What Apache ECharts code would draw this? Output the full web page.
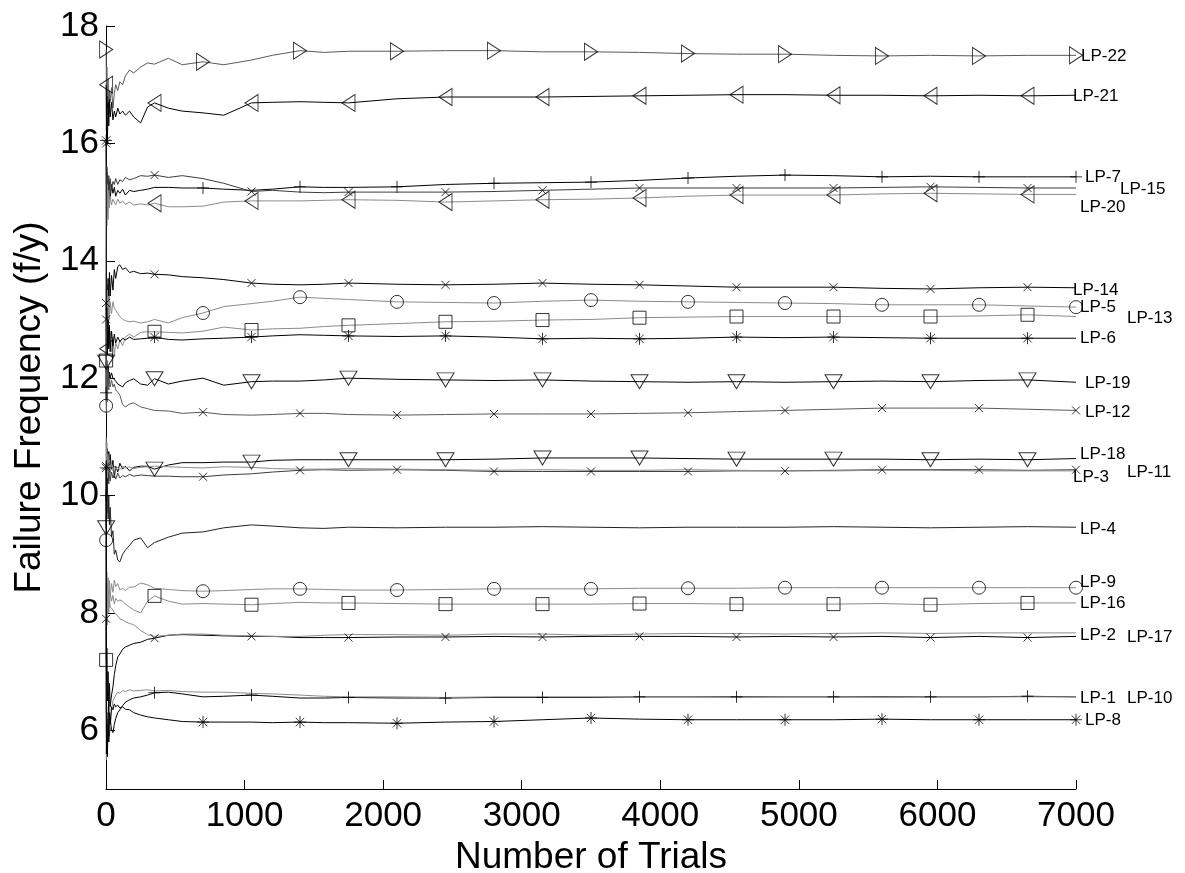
<!DOCTYPE html>
<html>
<head>
<meta charset="utf-8">
<title>Failure Frequency vs Number of Trials</title>
<script src="https://cdn.jsdelivr.net/npm/echarts@6/dist/echarts.min.js"></script>
<style>
  html, body { margin: 0; padding: 0; background: #fff; }
  #chart { width: 1185px; height: 873px; }
</style>
</head>
<body>
<div id="chart"></div>
<script>
// Trial counts at which each running failure-frequency estimate is sampled
const TRIALS = [1, 3, 6, 10, 15, 20, 25, 30, 40, 50, 60, 70, 85, 100, 120, 140, 170, 200, 250, 300,
  350, 450, 550, 700, 850, 1050, 1200, 1400, 1575, 1750, 2100, 2450, 2800, 3150, 3500, 3850,
  4200, 4550, 4900, 5250, 5600, 5950, 6300, 6650, 7000];

// Running failure frequency (f/y) of each load point
const LP22 = [17.6, 16.9, 17.3, 16.6, 17.1, 16.5, 16.9, 16.7, 16.95, 16.6, 16.85, 17.0, 16.9, 17.05, 17.0, 17.15, 17.25, 17.2, 17.3, 17.37, 17.35, 17.45, 17.34, 17.39, 17.34, 17.42, 17.5, 17.58, 17.55, 17.57, 17.57, 17.58, 17.58, 17.56, 17.56, 17.55, 17.53, 17.52, 17.52, 17.5, 17.49, 17.5, 17.49, 17.5, 17.5];
const LP21 = [17.0, 16.2, 16.8, 16.0, 16.7, 16.3, 16.75, 16.45, 16.7, 16.4, 16.55, 16.45, 16.6, 16.5, 16.55, 16.48, 16.55, 16.45, 16.35, 16.62, 16.69, 16.6, 16.55, 16.52, 16.48, 16.69, 16.7, 16.71, 16.7, 16.69, 16.76, 16.79, 16.79, 16.79, 16.8, 16.81, 16.82, 16.83, 16.83, 16.82, 16.82, 16.81, 16.82, 16.81, 16.82];
const LP7 = [11.75, 14.2, 15.6, 15.0, 15.4, 15.1, 15.35, 15.05, 15.3, 15.15, 15.25, 15.1, 15.2, 15.15, 15.22, 15.12, 15.2, 15.18, 15.2, 15.22, 15.25, 15.25, 15.24, 15.24, 15.22, 15.2, 15.22, 15.26, 15.25, 15.25, 15.26, 15.3, 15.32, 15.33, 15.34, 15.37, 15.41, 15.44, 15.46, 15.45, 15.43, 15.44, 15.43, 15.43, 15.43];
const LP15 = [16.0, 15.3, 14.8, 15.5, 15.0, 15.45, 15.1, 15.4, 15.2, 15.35, 15.3, 15.4, 15.3, 15.38, 15.35, 15.42, 15.38, 15.4, 15.45, 15.44, 15.46, 15.42, 15.45, 15.4, 15.32, 15.18, 15.2, 15.17, 15.16, 15.17, 15.17, 15.17, 15.18, 15.2, 15.22, 15.24, 15.24, 15.24, 15.24, 15.24, 15.25, 15.26, 15.25, 15.24, 15.24];
const LP20 = [12.5, 15.6, 14.6, 15.3, 14.7, 15.2, 14.9, 15.1, 14.95, 15.05, 15.0, 14.95, 15.05, 14.98, 15.02, 14.96, 15.0, 14.95, 14.97, 14.95, 14.98, 14.92, 14.92, 14.93, 15.0, 15.02, 15.02, 15.02, 15.03, 15.04, 15.03, 15.0, 15.02, 15.04, 15.05, 15.07, 15.1, 15.12, 15.12, 15.12, 15.14, 15.15, 15.14, 15.13, 15.13];
const LP14 = [13.28, 12.8, 13.6, 13.1, 13.7, 13.3, 13.8, 13.4, 13.75, 13.5, 13.85, 13.7, 13.9, 13.93, 13.85, 13.88, 13.8, 13.82, 13.78, 13.79, 13.77, 13.76, 13.73, 13.71, 13.68, 13.62, 13.6, 13.59, 13.6, 13.62, 13.6, 13.59, 13.6, 13.62, 13.6, 13.59, 13.57, 13.55, 13.55, 13.55, 13.53, 13.52, 13.54, 13.55, 13.54];
const LP5 = [11.53, 13.6, 12.6, 13.5, 12.9, 13.4, 13.0, 13.3, 13.1, 13.3, 13.2, 13.16, 13.1, 13.05, 13.0, 12.98, 12.96, 12.97, 12.94, 12.96, 13.0, 12.94, 13.03, 13.11, 13.22, 13.27, 13.31, 13.38, 13.36, 13.34, 13.3, 13.29, 13.28, 13.31, 13.33, 13.31, 13.3, 13.29, 13.28, 13.27, 13.25, 13.25, 13.25, 13.23, 13.21];
const LP13 = [12.3, 13.0, 12.4, 12.9, 12.5, 12.85, 12.55, 12.8, 12.45, 12.7, 12.4, 12.6, 12.5, 12.65, 12.55, 12.7, 12.75, 12.7, 12.78, 12.79, 12.79, 12.78, 12.77, 12.8, 12.87, 12.82, 12.84, 12.85, 12.88, 12.9, 12.93, 12.96, 12.97, 12.99, 13.0, 13.03, 13.04, 13.05, 13.05, 13.05, 13.05, 13.05, 13.06, 13.08, 13.05];
const LP6 = [16.05, 12.2, 13.2, 12.4, 13.0, 12.5, 12.9, 12.45, 12.8, 12.55, 12.75, 12.6, 12.7, 12.62, 12.68, 12.65, 12.7, 12.66, 12.67, 12.68, 12.7, 12.66, 12.65, 12.67, 12.68, 12.7, 12.72, 12.74, 12.73, 12.72, 12.71, 12.72, 12.7, 12.67, 12.68, 12.67, 12.68, 12.7, 12.69, 12.7, 12.69, 12.68, 12.68, 12.68, 12.68];
const LP19 = [12.27, 11.6, 12.3, 11.8, 12.2, 11.9, 12.1, 12.0, 12.09, 12.0, 12.02, 11.95, 11.9, 11.88, 11.85, 11.92, 11.96, 11.99, 11.9, 11.88, 11.99, 11.9, 11.95, 12.0, 11.88, 11.94, 11.95, 11.95, 11.97, 12.0, 11.98, 11.97, 11.96, 11.97, 11.95, 11.94, 11.93, 11.94, 11.93, 11.94, 11.95, 11.94, 11.96, 11.97, 11.93];
const LP12 = [13.0, 11.4, 12.3, 11.6, 12.1, 11.8, 12.0, 11.85, 11.97, 11.85, 11.9, 11.8, 11.76, 11.71, 11.55, 11.51, 11.56, 11.58, 11.51, 11.48, 11.45, 11.44, 11.4, 11.42, 11.38, 11.37, 11.38, 11.4, 11.4, 11.38, 11.37, 11.38, 11.39, 11.39, 11.39, 11.4, 11.41, 11.43, 11.45, 11.47, 11.49, 11.49, 11.49, 11.47, 11.45];
const LP18 = [9.45, 10.9, 10.3, 10.8, 10.4, 10.75, 10.35, 10.7, 10.45, 10.6, 10.3, 10.5, 10.4, 10.55, 10.45, 10.5, 10.42, 10.48, 10.5, 10.5, 10.45, 10.52, 10.56, 10.56, 10.57, 10.57, 10.6, 10.61, 10.61, 10.61, 10.61, 10.61, 10.62, 10.64, 10.64, 10.64, 10.63, 10.62, 10.62, 10.62, 10.62, 10.61, 10.62, 10.61, 10.63];
const LP3 = [10.5, 9.9, 10.6, 10.1, 10.5, 10.2, 10.45, 10.25, 10.4, 10.3, 10.35, 10.28, 10.38, 10.3, 10.34, 10.32, 10.36, 10.33, 10.35, 10.34, 10.33, 10.33, 10.32, 10.32, 10.35, 10.37, 10.4, 10.43, 10.44, 10.43, 10.44, 10.43, 10.41, 10.41, 10.41, 10.41, 10.41, 10.42, 10.42, 10.43, 10.44, 10.44, 10.44, 10.43, 10.44];
const LP11 = [11.0, 10.2, 10.9, 10.3, 10.7, 10.4, 10.6, 10.35, 10.55, 10.42, 10.5, 10.45, 10.48, 10.44, 10.5, 10.47, 10.49, 10.46, 10.48, 10.49, 10.5, 10.49, 10.48, 10.47, 10.49, 10.48, 10.46, 10.45, 10.45, 10.46, 10.45, 10.44, 10.43, 10.44, 10.43, 10.43, 10.44, 10.43, 10.42, 10.42, 10.43, 10.43, 10.42, 10.42, 10.42];
const LP4 = [9.9, 10.6, 9.7, 10.3, 9.6, 10.0, 9.5, 9.8, 9.3, 9.4, 9.0, 9.07, 8.9, 8.87, 9.0, 9.07, 9.15, 9.24, 9.28, 9.11, 9.2, 9.29, 9.36, 9.38, 9.45, 9.5, 9.48, 9.45, 9.44, 9.46, 9.45, 9.46, 9.46, 9.47, 9.46, 9.45, 9.46, 9.46, 9.46, 9.47, 9.46, 9.45, 9.46, 9.47, 9.46];
const LP9 = [9.24, 8.0, 8.7, 8.1, 8.6, 8.2, 8.55, 8.3, 8.5, 8.35, 8.56, 8.45, 8.5, 8.39, 8.42, 8.38, 8.44, 8.44, 8.51, 8.48, 8.42, 8.4, 8.38, 8.37, 8.38, 8.4, 8.41, 8.41, 8.4, 8.39, 8.39, 8.4, 8.41, 8.41, 8.41, 8.42, 8.42, 8.42, 8.43, 8.43, 8.43, 8.43, 8.43, 8.43, 8.43];
const LP16 = [7.2, 8.4, 7.9, 8.5, 8.0, 8.4, 8.1, 8.35, 8.2, 8.3, 8.15, 8.25, 8.2, 8.22, 8.2, 8.15, 8.1, 8.05, 8.0, 8.2, 8.29, 8.2, 8.15, 8.16, 8.15, 8.14, 8.16, 8.18, 8.17, 8.17, 8.16, 8.15, 8.15, 8.15, 8.15, 8.16, 8.16, 8.15, 8.15, 8.15, 8.16, 8.14, 8.16, 8.17, 8.17];
const LP2 = [7.9, 6.3, 7.4, 6.5, 7.0, 6.2, 6.8, 6.4, 6.6, 6.74, 6.95, 7.1, 7.25, 7.3, 7.38, 7.42, 7.45, 7.48, 7.5, 7.55, 7.57, 7.62, 7.63, 7.62, 7.61, 7.6, 7.6, 7.58, 7.58, 7.58, 7.59, 7.59, 7.6, 7.59, 7.6, 7.6, 7.6, 7.59, 7.6, 7.59, 7.6, 7.58, 7.6, 7.58, 7.6];
const LP17 = [8.5, 7.5, 8.4, 7.8, 8.3, 8.0, 8.2, 8.1, 8.1, 8.05, 8.0, 8.02, 7.95, 7.9, 7.88, 7.85, 7.82, 7.8, 7.7, 7.63, 7.6, 7.62, 7.64, 7.64, 7.62, 7.61, 7.6, 7.6, 7.62, 7.63, 7.63, 7.62, 7.64, 7.64, 7.62, 7.64, 7.65, 7.65, 7.64, 7.65, 7.66, 7.65, 7.66, 7.66, 7.66];
const LP1 = [10.0, 6.0, 5.7, 6.3, 5.8, 6.1, 5.9, 6.2, 6.0, 5.96, 6.1, 6.2, 6.3, 6.35, 6.42, 6.48, 6.52, 6.55, 6.57, 6.6, 6.64, 6.65, 6.62, 6.57, 6.58, 6.6, 6.58, 6.55, 6.55, 6.56, 6.55, 6.55, 6.56, 6.56, 6.56, 6.57, 6.57, 6.57, 6.57, 6.57, 6.57, 6.57, 6.57, 6.58, 6.57];
const LP10 = [6.8, 5.5, 6.4, 5.7, 6.2, 5.8, 6.3, 6.0, 6.35, 6.5, 6.55, 6.6, 6.65, 6.63, 6.68, 6.66, 6.69, 6.67, 6.68, 6.69, 6.67, 6.68, 6.66, 6.65, 6.65, 6.63, 6.62, 6.6, 6.58, 6.57, 6.57, 6.56, 6.57, 6.57, 6.57, 6.57, 6.57, 6.56, 6.57, 6.57, 6.56, 6.57, 6.57, 6.57, 6.57];
const LP8 = [10.47, 5.6, 6.1, 5.55, 6.2, 5.8, 6.3, 6.1, 6.4, 6.35, 6.45, 6.4, 6.43, 6.38, 6.4, 6.36, 6.35, 6.3, 6.26, 6.23, 6.21, 6.18, 6.15, 6.14, 6.14, 6.14, 6.13, 6.14, 6.13, 6.13, 6.12, 6.14, 6.15, 6.18, 6.21, 6.19, 6.18, 6.18, 6.18, 6.18, 6.19, 6.18, 6.18, 6.18, 6.18];

// Axis tick values
const X_TICK_STEP = 1000;
const Y_TICKS = [6, 8, 10, 12, 14, 16, 18];

const FONT = '"Liberation Sans", Arial, Helvetica, sans-serif';
const BLACK = '#000000';
const DARK = '#3c3c3c';
const GREY = '#8c8c8c';

// Open MATLAB-style marker shapes
const MARKERS = {
  triRight: { symbol: 'path://M0,0L10,6L0,12Z', size: [13, 17] },
  triLeft:  { symbol: 'path://M10,0L0,6L10,12Z', size: [13, 17] },
  triDown:  { symbol: 'path://M0,0L12,0L6,10Z', size: [17, 14] },
  circle:   { symbol: 'circle', size: 13 },
  square:   { symbol: 'rect', size: 13 },
  cross:    { symbol: 'path://M0,0L10,10M10,0L0,10', size: 8 },
  plus:     { symbol: 'path://M5,0L5,10M0,5L10,5', size: 12 },
  star:     { symbol: 'path://M5,0L5,10M0,5L10,5M1.5,1.5L8.5,8.5M8.5,1.5L1.5,8.5', size: 12 }
};

// One entry per load point: data, line colour, marker, marker phase and end-label offset
const LINES = [
  { name: 'LP-22', values: LP22, color: '#5a5a5a', marker: 'triRight', phase: 0,   label: [5, 1] },
  { name: 'LP-21', values: LP21, color: BLACK,     marker: 'triLeft',  phase: 350, label: [-3, 1] },
  { name: 'LP-7',  values: LP7,  color: BLACK,     marker: 'plus',     phase: 0,   label: [9, 0] },
  { name: 'LP-15', values: LP15, color: DARK,      marker: 'cross',    phase: 350, label: [44, 1] },
  { name: 'LP-20', values: LP20, color: GREY,      marker: 'triLeft',  phase: 350, label: [4, 13] },
  { name: 'LP-14', values: LP14, color: BLACK,     marker: 'cross',    phase: 350, label: [-3, 3] },
  { name: 'LP-5',  values: LP5,  color: GREY,      marker: 'circle',   phase: 0,   label: [4, 0] },
  { name: 'LP-13', values: LP13, color: GREY,      marker: 'square',   phase: 350, label: [51, 2] },
  { name: 'LP-6',  values: LP6,  color: BLACK,     marker: 'star',     phase: 350, label: [4, 0] },
  { name: 'LP-19', values: LP19, color: BLACK,     marker: 'triDown',  phase: 350, label: [9, 1] },
  { name: 'LP-12', values: LP12, color: '#5a5a5a', marker: 'cross',    phase: 0,   label: [9, 2] },
  { name: 'LP-18', values: LP18, color: BLACK,     marker: 'triDown',  phase: 350, label: [4, -4] },
  { name: 'LP-3',  values: LP3,  color: DARK,      marker: 'cross',    phase: 0,   label: [-3, 8] },
  { name: 'LP-11', values: LP11, color: GREY,      marker: null,       phase: null, label: [51, 1] },
  { name: 'LP-4',  values: LP4,  color: '#222222', marker: null,       phase: null, label: [4, 2] },
  { name: 'LP-9',  values: LP9,  color: GREY,      marker: 'circle',   phase: 0,   label: [4, -5] },
  { name: 'LP-16', values: LP16, color: GREY,      marker: 'square',   phase: 350, label: [4, 0] },
  { name: 'LP-2',  values: LP2,  color: BLACK,     marker: 'cross',    phase: 350, label: [4, -1] },
  { name: 'LP-17', values: LP17, color: GREY,      marker: null,       phase: null, label: [51, 4] },
  { name: 'LP-1',  values: LP1,  color: BLACK,     marker: 'plus',     phase: 350, label: [4, 1] },
  { name: 'LP-10', values: LP10, color: GREY,      marker: null,       phase: null, label: [51, 1] },
  { name: 'LP-8',  values: LP8,  color: BLACK,     marker: 'star',     phase: 0,   label: [9, 1] }
];

// Marker positions: the first sample, then every 700 trials starting at the series phase
function markerPoints(values, phase) {
  const pts = [[TRIALS[0], values[0]]];
  TRIALS.forEach((t, i) => {
    if (t >= 350 && t - phase >= 0 && (t - phase) % 700 === 0) pts.push([t, values[i]]);
  });
  return pts;
}

const series = [];
LINES.forEach(def => {
  series.push({
    type: 'line',
    name: def.name,
    data: TRIALS.map((t, i) => [t, def.values[i]]),
    showSymbol: false,
    symbol: 'none',
    silent: true,
    z: 2,
    lineStyle: { color: def.color, width: 1 },
    itemStyle: { color: def.color },
    endLabel: {
      show: true,
      formatter: def.name,
      color: BLACK,
      fontFamily: FONT,
      fontSize: 17,
      distance: 0,
      align: 'left',
      verticalAlign: 'middle',
      offset: def.label
    }
  });
  if (def.marker) {
    const m = MARKERS[def.marker];
    series.push({
      type: 'scatter',
      name: def.name + ' markers',
      data: markerPoints(def.values, def.phase),
      symbol: m.symbol,
      symbolSize: m.size,
      silent: true,
      z: 3,
      itemStyle: { color: 'rgba(0,0,0,0)', borderColor: BLACK, borderWidth: 1 }
    });
  }
});

const chart = echarts.init(document.getElementById('chart'), null, { renderer: 'canvas' });
chart.setOption({
  animation: false,
  backgroundColor: '#ffffff',
  grid: { left: 106, right: 109, top: 26, bottom: 84, outerBoundsMode: 'none', containLabel: false },
  xAxis: {
    type: 'value',
    min: 0,
    max: 7000,
    interval: X_TICK_STEP,
    name: 'Number of Trials',
    nameLocation: 'middle',
    nameGap: 44,
    nameTextStyle: { color: BLACK, fontSize: 37, fontFamily: FONT },
    axisLine: { show: true, onZero: false, lineStyle: { color: BLACK, width: 1 } },
    axisTick: { show: true, inside: true, length: 9, lineStyle: { color: BLACK, width: 1 } },
    axisLabel: { color: BLACK, fontSize: 35, fontFamily: FONT, margin: 10, formatter: v => String(v) },
    splitLine: { show: false }
  },
  yAxis: {
    type: 'value',
    min: 5,
    max: 18,
    name: 'Failure Frequency (f/y)',
    nameLocation: 'middle',
    nameGap: 58,
    nameRotate: 90,
    nameTextStyle: { color: BLACK, fontSize: 37, fontFamily: FONT },
    axisLine: { show: true, onZero: false, lineStyle: { color: BLACK, width: 1 } },
    axisTick: { show: true, inside: true, length: 9, customValues: Y_TICKS, lineStyle: { color: BLACK, width: 1 } },
    axisLabel: { color: BLACK, fontSize: 35, fontFamily: FONT, margin: 7, customValues: Y_TICKS, formatter: v => String(v) },
    splitLine: { show: false }
  },
  series: series
});
</script>
</body>
</html>
